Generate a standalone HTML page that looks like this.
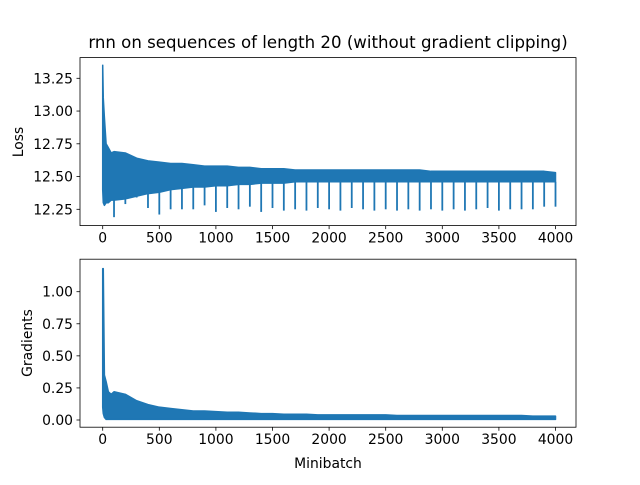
<!DOCTYPE html>
<html><head><meta charset="utf-8"><style>
body{margin:0;background:#fff}
svg text{font-family:"DejaVu Sans","Liberation Sans",sans-serif;fill:#000}
</style></head><body>
<svg id="chart" width="640" height="480" xmlns="http://www.w3.org/2000/svg">
<rect width="640" height="480" fill="#fff"/>
<text x="328" y="48" font-size="16.6" text-anchor="middle">rnn on sequences of length 20 (without gradient clipping)</text>
<g id="top"></g>
<g id="bot"></g>
<text transform="translate(23,142) rotate(-90)" font-size="13.9" text-anchor="middle">Loss</text>
<text transform="translate(32,343) rotate(-90)" font-size="13.9" text-anchor="middle">Gradients</text>
<text x="328" y="468" font-size="13.9" text-anchor="middle">Minibatch</text>
</svg>
<script>
const xTicks = [0,500,1000,1500,2000,2500,3000,3500,4000];
const lossTicks = [12.25,12.50,12.75,13.00,13.25];
const gradTicks = [0.00,0.25,0.50,0.75,1.00];
const envX = [0,5,15,30,50,75,100,200,300,400,500,600,700,800,900,1000,1100,1200,1300,1400,1500,1600,1700,1800,1900,2000,2100,2200,2300,2400,2500,2600,2700,2800,2900,3000,3100,3200,3300,3400,3500,3600,3700,3800,3900,4000];
const lossHigh = [13.35,13.10,12.95,12.75,12.72,12.68,12.69,12.68,12.64,12.62,12.61,12.60,12.60,12.59,12.58,12.58,12.58,12.57,12.57,12.56,12.56,12.56,12.55,12.55,12.55,12.55,12.55,12.55,12.55,12.55,12.55,12.55,12.55,12.55,12.54,12.54,12.54,12.54,12.54,12.54,12.54,12.54,12.54,12.54,12.54,12.53];
const lossLow = [12.40,12.30,12.28,12.30,12.30,12.32,12.32,12.33,12.35,12.37,12.38,12.40,12.41,12.42,12.42,12.43,12.43,12.44,12.44,12.45,12.45,12.45,12.46,12.46,12.46,12.46,12.46,12.46,12.46,12.46,12.46,12.46,12.46,12.46,12.46,12.46,12.46,12.46,12.46,12.46,12.46,12.46,12.46,12.46,12.46,12.46];
const dipX = [100,200,300,400,500,600,700,800,900,1000,1100,1200,1300,1400,1500,1600,1700,1800,1900,2000,2100,2200,2300,2400,2500,2600,2700,2800,2900,3000,3100,3200,3300,3400,3500,3600,3700,3800,3900,4000];
const lossDips = [12.19,12.29,12.34,12.26,12.21,12.25,12.25,12.25,12.28,12.23,12.26,12.25,12.27,12.23,12.26,12.24,12.25,12.24,12.26,12.25,12.24,12.26,12.25,12.24,12.25,12.24,12.25,12.24,12.25,12.24,12.25,12.24,12.25,12.26,12.24,12.25,12.25,12.25,12.27,12.27];
const gradHigh = [1.18,1.18,0.35,0.30,0.22,0.20,0.22,0.20,0.15,0.12,0.10,0.09,0.08,0.07,0.07,0.065,0.06,0.06,0.055,0.05,0.05,0.045,0.045,0.045,0.04,0.04,0.04,0.04,0.04,0.04,0.04,0.035,0.035,0.035,0.035,0.035,0.035,0.035,0.035,0.035,0.035,0.035,0.035,0.03,0.03,0.03];
const gradLow = [0.10,0.05,0.02,0.005,0.005,0.005,0.005,0.005,0.005,0.005,0.005,0.005,0.005,0.005,0.005,0.005,0.005,0.005,0.005,0.005,0.005,0.005,0.005,0.005,0.005,0.005,0.005,0.005,0.005,0.005,0.005,0.005,0.005,0.005,0.005,0.005,0.005,0.005,0.005,0.005,0.005,0.005,0.005,0.005,0.005,0.005];
const NS="http://www.w3.org/2000/svg";
const L=80,R=576;
function xs(v){return 102.7+v*(452.8/4000);}
function yLoss(v){return 209.3-(v-12.25)*131;}
function yGrad(v){return 420-v*128.3;}
function interp(xArr,vArr,x){for(let i=1;i<xArr.length;i++){if(x<=xArr[i]){const t=(x-xArr[i-1])/(xArr[i]-xArr[i-1]);return vArr[i-1]+t*(vArr[i]-vArr[i-1]);}}return vArr[vArr.length-1];}
function mk(t,a,p){const e=document.createElementNS(NS,t);for(const k in a)e.setAttribute(k,a[k]);p.appendChild(e);return e;}
function axes(g,top,bot,ticks,yf,hi,lo,dips,nm){
  const up=envX.map((x,i)=>xs(x).toFixed(2)+","+yf(hi[i]).toFixed(2));
  const dn=envX.map((x,i)=>xs(x).toFixed(2)+","+yf(lo[i]).toFixed(2)).reverse();
  const band=mk("polygon",{points:up.concat(dn).join(" "),fill:"#1f77b4",stroke:"#1f77b4","stroke-width":1.5,"stroke-linejoin":"round"},g);
  
  
  if(dips){dipX.forEach((x,i)=>{
    const s=mk("line",{x1:xs(x),x2:xs(x),y1:yf(interp(envX,lo,x)),y2:yf(dips[i]),stroke:"#1f77b4","stroke-width":1.8},g);
    
    
  });}
  const fr=mk("rect",{x:L,y:top,width:R-L,height:bot-top,fill:"none",stroke:"#000","stroke-width":0.8},g);
  
  
  xTicks.forEach(t=>{const x=xs(t);
    mk("line",{x1:x,x2:x,y1:bot,y2:bot+3.5,stroke:"#000","stroke-width":0.8},g);
    const tx=mk("text",{x:x,y:bot+17,"font-size":13.9,"text-anchor":"middle"},g);tx.textContent=t;
    
    
  });
  ticks.forEach(t=>{const y=yf(t);
    mk("line",{x1:L-3.5,x2:L,y1:y,y2:y,stroke:"#000","stroke-width":0.8},g);
    const tx=mk("text",{x:L-7,y:y+5,"font-size":13.9,"text-anchor":"end"},g);tx.textContent=t.toFixed(2);
    
    
  });
}
axes(document.getElementById("top"),57.6,225.6,lossTicks,yLoss,lossHigh,lossLow,lossDips,"loss");
axes(document.getElementById("bot"),259.2,427.2,gradTicks,yGrad,gradHigh,gradLow,null,"gradients");
</script>
</body></html>
